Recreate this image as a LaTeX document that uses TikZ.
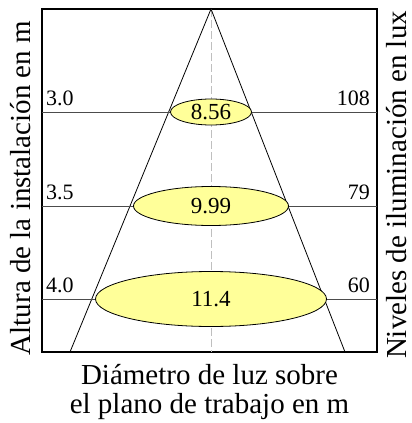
\documentclass[tikz,border=0pt]{standalone}
\usepackage{fontspec}
\setmainfont{Liberation Serif}
\usepackage{xcolor}
\usepackage{tikz}
\usetikzlibrary{shapes.geometric, positioning}
\definecolor{spotyellow}{HTML}{FFFF99}

\begin{document}
\begin{tikzpicture}[x=1pt, y=-1pt, node distance=12pt]
        \tikzstyle{frame} = [rectangle, draw, line width=1.2pt, minimum width=335pt, minimum height=343pt, inner sep=0pt, outer sep=0pt]
        \tikzstyle{spot} = [ellipse, draw, fill=spotyellow, line width=0.8pt, inner sep=0pt, font=\fontsize{23}{25}\selectfont]
        \tikzstyle{val} = [inner sep=0pt, font=\fontsize{22}{24}\selectfont]
        \tikzstyle{axis} = [inner sep=0pt, font=\fontsize{29}{29}\selectfont]
        \tikzstyle{level} = [draw, black!70, line width=1pt]
        \tikzstyle{ray} = [draw, line width=0.8pt]
        \tikzstyle{centre} = [draw, black!25, line width=1pt, dash pattern=on 8pt off 3pt]

        \useasboundingbox (0,0) rectangle (412,423);
        \node [frame] (frame) at (209.5,180.5) {};

        \coordinate (apex) at (211,9);
        \coordinate (footl) at (70,352);
        \coordinate (footr) at (345,352);
        \coordinate (foot) at (211,352);
        \coordinate (l1) at (211,112);
        \coordinate (l2) at (211,206);
        \coordinate (l3) at (211,299);
        \coordinate (l1w) at (frame.west |- l1);
        \coordinate (l1e) at (frame.east |- l1);
        \coordinate (l2w) at (frame.west |- l2);
        \coordinate (l2e) at (frame.east |- l2);
        \coordinate (l3w) at (frame.west |- l3);
        \coordinate (l3e) at (frame.east |- l3);

        % light cone
        \path [centre] (apex) -- (foot);
        \path [ray] (footl) -- (apex) -- (footr);

        % mounting heights
        \path [level] (l1w) -- (l1e);
        \path [level] (l2w) -- (l2e);
        \path [level] (l3w) -- (l3e);

        \node [spot, minimum width=81pt, minimum height=26pt] (s1) at (l1) {8.56};
        \node [spot, minimum width=155pt, minimum height=39pt] (s2) at (l2) {9.99};
        \node [spot, minimum width=231pt, minimum height=55pt] (s3) at (l3) {11.4};

        \node [val, above right=6pt and 4pt of l1w] (h1) {3.0};
        \node [val, above right=6pt and 4pt of l2w] (h2) {3.5};
        \node [val, above right=6pt and 4pt of l3w] (h3) {4.0};
        \node [val, above left=6pt and 7pt of l1e] (e1) {108};
        \node [val, above left=6pt and 7pt of l2e] (e2) {79};
        \node [val, above left=6pt and 7pt of l3e] (e3) {60};

        \node [axis, rotate=90, anchor=south] (height) at (31,188) {Altura de la instalación en m};
        \node [axis, rotate=90, anchor=south] (lux) at (407,185) {Niveles de iluminación en lux};
        \node [axis, align=center, below=12pt of frame] (diam) {Diámetro de luz sobre\\el plano de trabajo en m};
\end{tikzpicture}
\end{document}
